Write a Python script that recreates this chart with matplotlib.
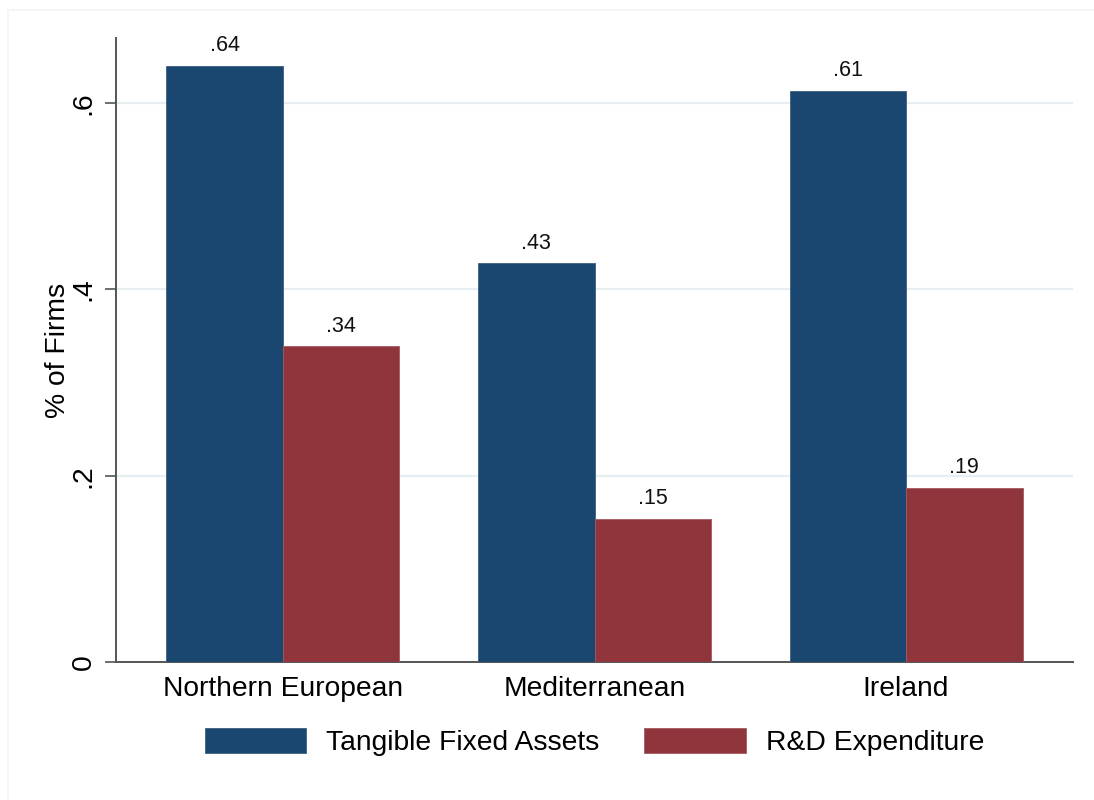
import matplotlib
matplotlib.use("Agg")
import matplotlib.pyplot as plt
import numpy as np

categories = ["Northern European", "Mediterranean", "Ireland"]
series_names = ["Tangible Fixed Assets", "R&D Expenditure"]
tangible = [0.64, 0.428, 0.613]
rnd = [0.339, 0.154, 0.187]
value_labels_tangible = [".64", ".43", ".61"]
value_labels_rnd = [".34", ".15", ".19"]
yticks = [0, 0.2, 0.4, 0.6]
ytick_labels = ["0", ".2", ".4", ".6"]

plt.rcParams['font.family'] = ['Liberation Sans', 'DejaVu Sans']

W, H = 1094, 800
FS = 20.3
fig = plt.figure(figsize=(W / 100, H / 100), dpi=100)
fig.patch.set_facecolor("white")

# faint outer frame
fig.add_artist(plt.Line2D([8 / W, 8 / W], [0, 1 - 10 / H], transform=fig.transFigure,
                          color="#f3f5f7", lw=1.2))
fig.add_artist(plt.Line2D([8 / W, 1], [1 - 10 / H, 1 - 10 / H], transform=fig.transFigure,
                          color="#f3f5f7", lw=1.2))

ax = fig.add_axes([116 / W, 1 - 662 / H, (1073 - 116) / W, (662 - 38) / H])

blue = "#1a476f"
red = "#90353b"
x = np.arange(len(categories))
bw = 0.374
b1 = ax.bar(x - bw / 2, tangible, bw, color=blue, edgecolor="#3d5f80", linewidth=0.6,
            label=series_names[0], zorder=3)
b2 = ax.bar(x + bw / 2, rnd, bw, color=red, edgecolor="#a55a60", linewidth=0.6,
            label=series_names[1], zorder=3)

ax.bar_label(b1, labels=value_labels_tangible, padding=7, fontsize=15.5, color="#111111")
ax.bar_label(b2, labels=value_labels_rnd, padding=7, fontsize=15.5, color="#111111")

ax.set_xlim(-0.536, 2.536)
ax.set_ylim(0, 0.67)

ax.set_yticks(yticks)
ax.set_yticklabels(ytick_labels, rotation=90, va="center", fontsize=FS)
ax.set_xticks(x)
ax.set_xticklabels(categories, fontsize=FS)
ax.tick_params(axis="x", length=0, pad=10)
ax.tick_params(axis="y", length=8, width=1.2, color="#555555", pad=6)

for t in yticks[1:]:
    ax.axhline(t, color="#e6eef1", lw=1.6, zorder=1)

ax.set_ylabel("% of Firms", fontsize=FS, labelpad=0)

for s in ["top", "right"]:
    ax.spines[s].set_visible(False)
for s in ["left", "bottom"]:
    ax.spines[s].set_color("#555555")
    ax.spines[s].set_linewidth(1.4)

fig.legend(handles=[b1, b2], labels=series_names, loc="center", ncol=2,
           bbox_to_anchor=(594.5 / W, 1 - 742 / H), frameon=False, fontsize=FS,
           handlelength=3.6, handleheight=1.0, handletextpad=0.7, columnspacing=1.6)

fig.savefig("out.png", dpi=100, facecolor="white")
